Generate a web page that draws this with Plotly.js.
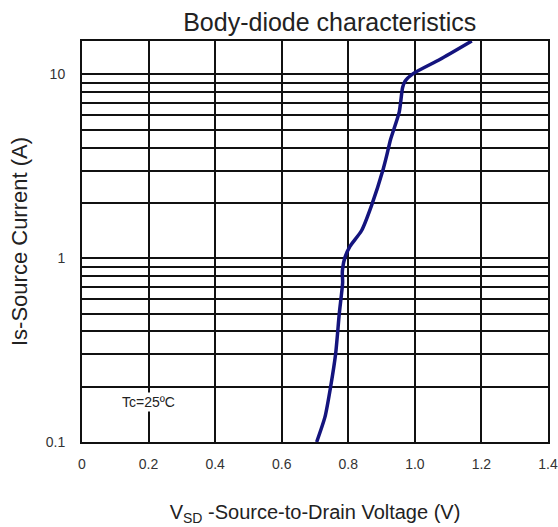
<!DOCTYPE html>
<html>
<head>
<meta charset="utf-8">
<script src="https://cdn.plot.ly/plotly-3.0.1.min.js"></script>
<style>html,body{margin:0;padding:0;background:#fff;}#chart{width:558px;height:527px;}</style>
</head>
<body>
<div id="chart"></div>
<script>
// Body-diode curve (V_SD in volts, Is in amperes)
const vsd = [0.705, 0.730, 0.747, 0.762, 0.773, 0.783, 0.782, 0.783, 0.790, 0.805, 0.840, 0.870, 0.905, 0.915, 0.927, 0.953, 0.963, 0.970, 0.995, 1.075, 1.171];
const isCurrent = [0.10, 0.137, 0.20, 0.302, 0.50, 0.738, 0.829, 0.88, 1.01, 1.16, 1.415, 1.94, 3.06, 3.59, 4.42, 6.23, 8.46, 9.16, 10.1, 12.05, 15.2];

const xTickVals = [0, 0.2, 0.4, 0.6, 0.8, 1.0, 1.2, 1.4];
const xTickText = ["0", "0.2", "0.4", "0.6", "0.8", "1.0", "1.2", "1.4"];
const yTickVals = [0.1, 1, 10];
const yTickText = ["0.1", "1", "10"];
const yGridVals = [0.2, 0.3, 0.4, 0.5, 0.6, 0.7, 0.8, 0.9, 2, 3, 4, 5, 6, 7, 8, 9];
const xRange = [0, 1.4];
const yTop = 15.2;
const noteText = "Tc=25ºC";

const FONT = "Liberation Sans, Arial, sans-serif";

const trace = {
  x: vsd, y: isCurrent, type: "scatter", mode: "lines",
  line: {color: "#14147e", width: 3.5, shape: "spline", smoothing: 0.6},
  hoverinfo: "skip", showlegend: false
};

const layout = {
  width: 558, height: 527,
  margin: {l: 82, r: 10, t: 41, b: 85},
  paper_bgcolor: "#fff", plot_bgcolor: "#fff",
  font: {family: FONT, color: "#222", size: 14},
  title: {text: "Body-diode characteristics", font: {family: FONT, size: 25, color: "#222"},
          x: 0.591, xanchor: "center", xref: "container", y: 0.958, yanchor: "middle", yref: "container"},
  xaxis: {
    range: xRange, tickmode: "array", tickvals: xTickVals, ticktext: xTickText,
    showgrid: true, gridcolor: "#111", gridwidth: 2,
    showline: true, linecolor: "#111", linewidth: 2, mirror: true,
    zeroline: false, ticks: "", ticklabelstandoff: 8,
    tickfont: {family: FONT, size: 14, color: "#333"},
    title: {text: "V<sub>SD</sub> -Source-to-Drain Voltage (V)", font: {family: FONT, size: 20, color: "#222"}, standoff: 34}
  },
  yaxis: {
    type: "log", range: [-1, Math.log10(yTop)], tickmode: "array", tickvals: yTickVals, ticktext: yTickText,
    showgrid: true, gridcolor: "#111", gridwidth: 2,
    minor: {tickmode: "array", tickvals: yGridVals, showgrid: true, gridcolor: "#111", gridwidth: 2, ticks: ""},
    showline: true, linecolor: "#111", linewidth: 2, mirror: true,
    zeroline: false, ticks: "", ticklabelstandoff: 12,
    tickfont: {family: FONT, size: 14, color: "#333"},
    title: {text: "Is-Source Current (A)", font: {family: FONT, size: 22, color: "#222"}, standoff: 12}
  },
  annotations: [{
    x: 0.2, y: Math.log10(0.165), xref: "x", yref: "y", text: noteText, showarrow: false,
    font: {family: FONT, size: 14, color: "#222"}, bgcolor: "#fff", borderpad: 1
  }]
};

Plotly.newPlot("chart", [trace], layout, {displayModeBar: false, staticPlot: true});
</script>
</body>
</html>
